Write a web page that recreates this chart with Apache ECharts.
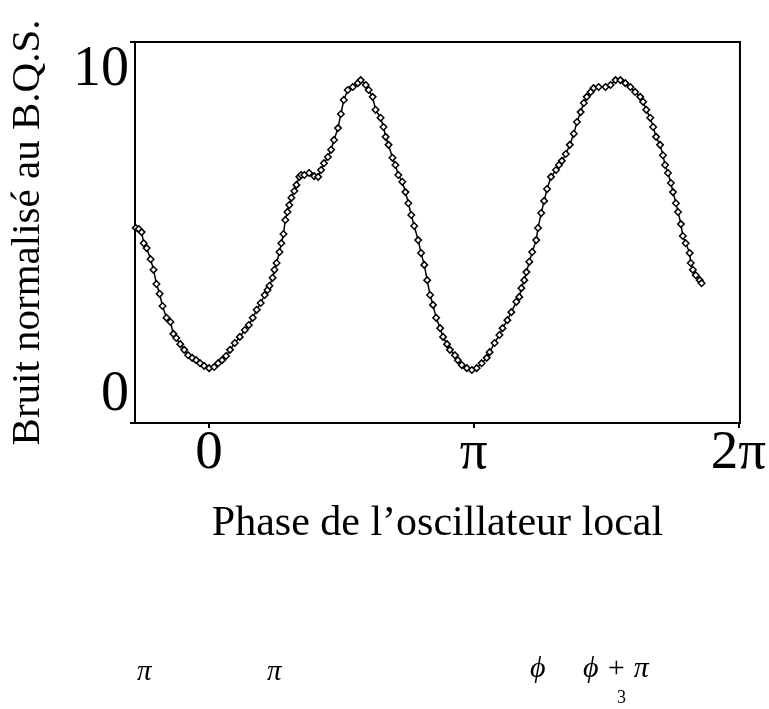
<!DOCTYPE html>
<html>
<head>
<meta charset="utf-8">
<script src="https://cdn.jsdelivr.net/npm/echarts@6/dist/echarts.min.js"></script>
<style>
html,body{margin:0;padding:0;background:#fff;}
#chart{width:769px;height:709px;}
</style>
</head>
<body>
<div id="chart"></div>
<script>
// Phase of the local oscillator, in units of pi
const phase = [
-0.277,-0.266,-0.255,-0.247,-0.236,-0.221,-0.210,-0.199,-0.187,-0.176,
-0.161,-0.146,-0.135,-0.124,-0.109,-0.094,-0.079,-0.064,-0.049,-0.034,
-0.019,0.000,0.019,0.034,0.049,0.064,0.079,0.097,0.116,0.135,
0.150,0.165,0.180,0.195,0.210,0.221,0.228,0.240,0.247,0.255,
0.266,0.273,0.281,0.288,0.296,0.303,0.311,0.322,0.330,0.341,
0.348,0.360,0.378,0.397,0.412,0.423,0.434,0.449,0.461,0.472,
0.487,0.498,0.509,0.524,0.543,0.562,0.573,0.592,0.603,0.618,
0.629,0.648,0.659,0.667,0.678,0.693,0.704,0.715,0.730,0.742,
0.753,0.764,0.775,0.790,0.801,0.813,0.824,0.835,0.846,0.858,
0.873,0.884,0.899,0.910,0.929,0.940,0.955,0.974,0.993,1.011,
1.030,1.049,1.060,1.079,1.097,1.109,1.127,1.142,1.161,1.172,
1.180,1.191,1.199,1.210,1.221,1.236,1.243,1.255,1.266,1.277,
1.292,1.311,1.322,1.333,1.348,1.363,1.378,1.390,1.404,1.416,
1.427,1.442,1.453,1.472,1.498,1.517,1.536,1.554,1.573,1.592,
1.610,1.629,1.640,1.652,1.667,1.678,1.689,1.704,1.715,1.723,
1.734,1.745,1.753,1.764,1.772,1.783,1.790,1.801,1.816,1.820,
1.828,1.839,1.854,1.861
];
// Noise normalised to the shot-noise level
const noise = [
5.12,5.09,5.01,4.72,4.59,4.30,4.02,3.65,3.39,3.07,
2.76,2.65,2.34,2.23,2.07,1.92,1.78,1.71,1.65,1.57,
1.50,1.44,1.47,1.57,1.65,1.76,1.92,2.10,2.26,2.44,
2.57,2.76,2.97,3.15,3.36,3.49,3.60,3.81,4.02,4.20,
4.49,4.72,4.96,5.33,5.54,5.72,5.91,6.09,6.25,6.46,
6.51,6.51,6.56,6.48,6.46,6.64,6.82,6.98,7.17,7.43,
7.74,8.11,8.48,8.74,8.82,8.92,9.00,8.87,8.74,8.56,
8.22,8.01,7.77,7.51,7.30,6.96,6.77,6.51,6.33,6.06,
5.77,5.46,5.17,4.80,4.46,4.15,3.75,3.36,3.10,2.76,
2.49,2.26,2.07,1.92,1.78,1.65,1.52,1.44,1.39,1.44,
1.57,1.71,1.86,2.10,2.31,2.49,2.70,2.91,3.18,3.31,
3.54,3.75,3.96,4.23,4.49,4.80,5.12,5.51,5.83,6.14,
6.46,6.64,6.77,6.88,7.06,7.30,7.59,7.90,8.16,8.40,
8.56,8.69,8.79,8.82,8.82,8.87,9.00,9.00,8.92,8.82,
8.69,8.56,8.43,8.22,8.01,7.77,7.51,7.30,7.03,6.77,
6.56,6.30,6.06,5.77,5.54,5.22,4.91,4.72,4.46,4.20,
4.02,3.88,3.75,3.67
];
const xTickValues = [0, 1, 2];
const xTickLabels = ['0', 'π', '2π'];
const yTickValues = [0, 10];
const xTitle = 'Phase de l\u2019oscillateur local';
const yTitle = 'Bruit normalisé au B.Q.S.';

const seriesData = phase.map((p, i) => [p, noise[i]]);
const serif = 'Liberation Serif';

const chart = echarts.init(document.getElementById('chart'), null, {renderer: 'canvas'});
chart.setOption({
  animation: false,
  backgroundColor: '#fff',
  grid: {left: 132, right: 23, top: 42, bottom: 286, show: true, borderColor: '#000', borderWidth: 2, backgroundColor: 'transparent'},
  xAxis: {
    type: 'value', min: -0.28, max: 2.006,
    name: xTitle, nameLocation: 'middle', nameGap: 80,
    nameTextStyle: {fontFamily: serif, fontSize: 42, color: '#000'},
    axisLine: {show: true, onZero: false, lineStyle: {color: '#000', width: 2}},
    axisTick: {show: true, customValues: xTickValues, length: 5, lineStyle: {color: '#000', width: 2}},
    axisLabel: {customValues: xTickValues, formatter: v => xTickLabels[xTickValues.indexOf(Math.round(v))] || '',
      fontFamily: serif, fontSize: 55, color: '#000', margin: 3},
    splitLine: {show: false}
  },
  yAxis: {
    type: 'value', min: yTickValues[0], max: yTickValues[1], interval: 10,
    name: yTitle, nameLocation: 'middle', nameGap: 86,
    nameTextStyle: {fontFamily: serif, fontSize: 41, color: '#000'},
    axisLine: {show: true, onZero: false, lineStyle: {color: '#000', width: 2}},
    axisTick: {show: true, length: 5, lineStyle: {color: '#000', width: 2}},
    axisLabel: {fontFamily: serif, fontSize: 56, color: '#000', margin: 6,
      verticalAlignMinLabel: 'bottom', verticalAlignMaxLabel: 'top'},
    splitLine: {show: false}
  },
  series: [{
    type: 'line', data: seriesData,
    showAllSymbol: true, symbol: 'diamond', symbolSize: 6.5,
    lineStyle: {color: '#000', width: 1.5},
    itemStyle: {color: '#fff', borderColor: '#000', borderWidth: 1.5},
    emphasis: {disabled: true}
  }],
  graphic: [
    {type: 'text', left: 137, top: 658, style: {text: 'π', font: 'italic 29px "Liberation Serif"', fill: '#000'}},
    {type: 'text', left: 267, top: 658, style: {text: 'π', font: 'italic 29px "Liberation Serif"', fill: '#000'}},
    {type: 'text', left: 530, top: 654, style: {text: 'ϕ', font: 'italic 30px "Liberation Serif"', fill: '#000'}},
    {type: 'text', left: 583, top: 654, style: {text: 'ϕ + π', font: 'italic 30px "Liberation Serif"', fill: '#000'}},
    {type: 'text', left: 617, top: 689, style: {text: '3', font: '18px "Liberation Serif"', fill: '#000'}}
  ]
});
</script>
</body>
</html>
